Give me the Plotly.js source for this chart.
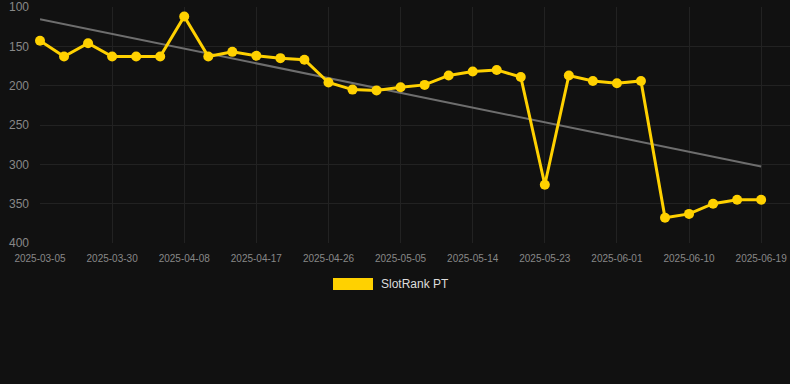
<!DOCTYPE html>
<html>
<head>
<meta charset="utf-8">
<script src="https://cdn.plot.ly/plotly-3.0.1.min.js"></script>
<style>
html,body{margin:0;padding:0;background:#111111;}
#chart{width:790px;height:384px;}
</style>
</head>
<body>
<div id="chart"></div>
<script>
const dates = ["2025-03-05","2025-03-24","2025-03-27","2025-03-30","2025-04-02","2025-04-05","2025-04-08","2025-04-11","2025-04-14","2025-04-17","2025-04-20","2025-04-23","2025-04-26","2025-04-29","2025-05-02","2025-05-05","2025-05-08","2025-05-11","2025-05-14","2025-05-17","2025-05-20","2025-05-23","2025-05-26","2025-05-29","2025-06-01","2025-06-04","2025-06-07","2025-06-10","2025-06-13","2025-06-16","2025-06-19"];
const ranks = [143,163,146,163,163,163,112,163,157,162,165,167,196,205,206,202,199,187,182,180,189,326,187,194,197,194,368,363,350,345,345];
const tickDates = ["2025-03-05","2025-03-30","2025-04-08","2025-04-17","2025-04-26","2025-05-05","2025-05-14","2025-05-23","2025-06-01","2025-06-10","2025-06-19"];
const yTicks = [100,150,200,250,300,350,400];
const seriesName = "SlotRank PT";

// linear trend from data
const n = ranks.length;
let sx=0, sy=0, sxx=0, sxy=0;
for (let i=0;i<n;i++){ sx+=i; sy+=ranks[i]; sxx+=i*i; sxy+=i*ranks[i]; }
const slope = (n*sxy - sx*sy)/(n*sxx - sx*sx);
const intercept = (sy - slope*sx)/n;
const trendX = [dates[0], dates[n-1]];
const trendY = [intercept, intercept + slope*(n-1)];

const traces = [
  {x: trendX, y: trendY, type:'scatter', mode:'lines', line:{color:'#6e6e6e', width:2}, hoverinfo:'skip', showlegend:false, cliponaxis:false},
  {x: dates, y: ranks, type:'scatter', mode:'lines+markers', name: seriesName, cliponaxis:false,
   line:{color:'#FFD100', width:3}, marker:{color:'#FFD100', size:10}, showlegend:false}
];

const layout = {
  width:790, height:384,
  paper_bgcolor:'#111111', plot_bgcolor:'#111111',
  margin:{l:40, r:0, t:7, b:141},
  font:{family:'"Liberation Sans", Arial, sans-serif', color:'#888888'},
  xaxis:{type:'category', categoryorder:'array', categoryarray:dates,
    range:[0, 31.2], tickvals:tickDates, ticktext:tickDates,
    showgrid:true, gridcolor:'#222222', gridwidth:1, zeroline:false, showline:false,
    ticks:'', tickfont:{size:10, color:'#888888'}, ticklabelstandoff:8},
  yaxis:{range:[400,100], tickvals:yTicks, showgrid:true, gridcolor:'#222222', zeroline:false,
    showline:false, ticks:'', tickfont:{size:12, color:'#888888'}, ticklabelstandoff:10},
  showlegend:false,
  shapes:[{type:'rect', xref:'paper', yref:'paper', x0:(333-40)/750, x1:(373-40)/750,
    y0:(384-290-141)/236, y1:(384-278-141)/236, fillcolor:'#FFD100', line:{width:0}}],
  annotations:[{xref:'paper', yref:'paper', x:(379-40)/750, y:(384-284-141)/236, xanchor:'left', yanchor:'middle',
    text:seriesName, showarrow:false, font:{size:12, color:'#dddddd'}}]
};

Plotly.newPlot('chart', traces, layout, {displayModeBar:false, staticPlot:true});
</script>
</body>
</html>
